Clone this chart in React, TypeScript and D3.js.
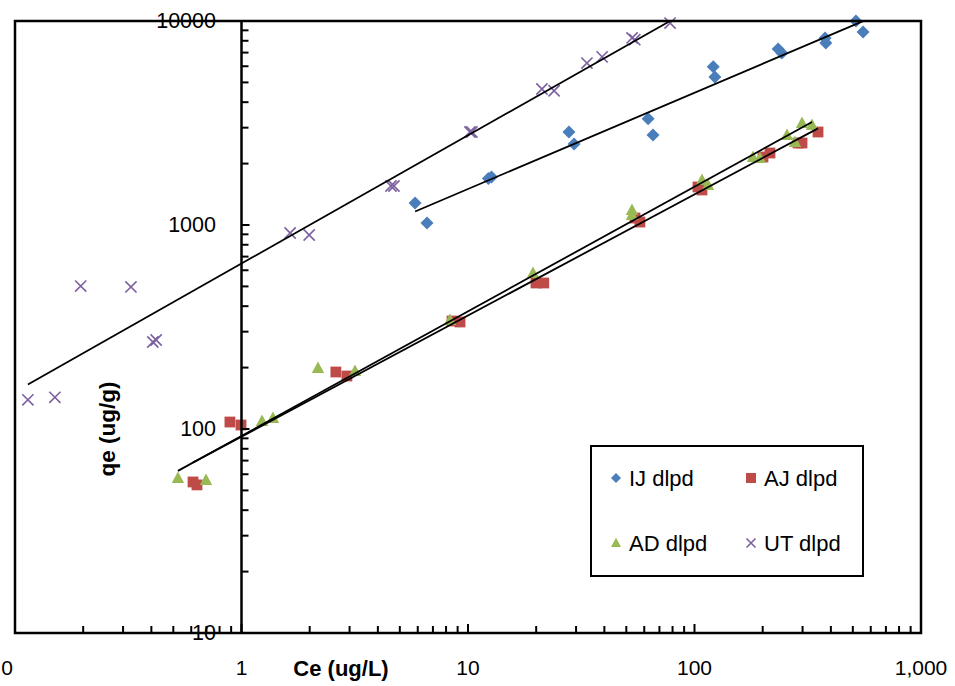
import * as d3 from "d3";

// Ce (ug/L) and qe (ug/g)
const ijCe = [5.84, 6.59, 12.3, 12.7, 27.9, 29.4, 62.4, 65.6, 121, 123, 234, 243, 377, 380, 516, 555];
const ijQe = [1283, 1023, 1690, 1720, 2858, 2495, 3313, 2762, 5960, 5310, 7290, 6970, 8260, 7800, 10000, 8830];

const ajCe = [0.611, 0.636, 0.889, 0.995, 2.61, 2.92, 8.5, 9.22, 19.96, 21.6, 54.6, 57.4, 103.6, 107.9, 200.6, 215.4, 286.4, 298.3, 351];
const ajQe = [55.0, 53.2, 108.2, 104.6, 190.3, 181.9, 338.4, 334.6, 519.6, 519.6, 1082, 1034, 1536, 1485, 2154, 2254, 2523, 2523, 2857];

const adCe = [0.524, 0.697, 1.232, 1.377, 2.176, 3.17, 8.33, 19.36, 52.97, 52.97, 107.9, 114.7, 181.3, 194.6, 256.1, 277.8, 298.3, 330.2];
const adQe = [57.5, 56.2, 109.4, 113.2, 199.1, 192.4, 342.2, 581.9, 1184, 1119, 1662, 1571, 2154, 2130, 2762, 2552, 3162, 3092];

const utCe = [0.114, 0.15, 0.195, 0.325, 0.406, 0.42, 1.64, 1.99, 4.57, 4.71, 10.2, 10.4, 21.2, 24.0, 33.5, 39.1, 53.0, 54.5, 78];
const utQe = [139, 143, 502, 497, 267, 273, 914, 893, 1553, 1553, 2858, 2858, 4640, 4550, 6220, 6670, 8260, 8100, 9770];

const seriesNames = ["IJ dlpd", "AJ dlpd", "AD dlpd", "UT dlpd"];
const seriesColors = ["#4A7EBB", "#BE4B48", "#98B954", "#7D60A0"];

const xTickValues = [0.1, 1, 10, 100, 1000];
const xTickLabels = ["0", "1", "10", "100", "1,000"];
const yTickValues = [10, 100, 1000, 10000];
const yTickLabels = ["10", "100", "1000", "10000"];

const FONT = "'Liberation Sans', Arial, sans-serif";

// power trendline = least squares on log10 values
function powerFit(xs: number[], ys: number[]) {
  const lx = xs.map(Math.log10);
  const ly = ys.map(Math.log10);
  const mx = d3.mean(lx)!;
  const my = d3.mean(ly)!;
  let num = 0;
  let den = 0;
  lx.forEach((v, i) => {
    num += (v - mx) * (ly[i] - my);
    den += (v - mx) * (v - mx);
  });
  const n = num / den;
  const a = my - n * mx;
  return (x: number) => Math.pow(10, a + n * Math.log10(x));
}

function marker(shape: string, s: number) {
  if (shape === "diamond") return `M0,${-s}L${s},0L0,${s}L${-s},0Z`;
  if (shape === "square") return `M${-s},${-s}H${s}V${s}H${-s}Z`;
  if (shape === "triangle") return `M0,${-s * 1.05}L${s},${s * 0.8}L${-s},${s * 0.8}Z`;
  return `M${-s},${-s}L${s},${s}M${-s},${s}L${s},${-s}`;
}

export default function App() {
  const left = 15;
  const right = 921;
  const top = 21;
  const bottom = 633;

  const x = d3.scaleLog().domain([0.1, 1000]).range([left, right]);
  const y = d3.scaleLog().domain([10, 10000]).range([bottom, top]);

  const series = [
    { ce: ijCe, qe: ijQe, shape: "diamond", size: 6.5 },
    { ce: ajCe, qe: ajQe, shape: "square", size: 5.4 },
    { ce: adCe, qe: adQe, shape: "triangle", size: 6.2 },
    { ce: utCe, qe: utQe, shape: "x", size: 5.6 },
  ].map((s, i) => ({ ...s, name: seriesNames[i], color: seriesColors[i] }));

  const line = d3
    .line<[number, number]>()
    .x((d) => x(d[0]))
    .y((d) => y(d[1]));

  const xMinor = x.ticks();
  const yMinor = y.ticks();
  const yAxisX = x(1);

  const legendItems = [
    { s: series[0], lx: 616, ly: 478 },
    { s: series[1], lx: 751, ly: 478 },
    { s: series[2], lx: 616, ly: 543 },
    { s: series[3], lx: 751, ly: 543 },
  ];

  return (
    <svg
      width={955}
      height={686}
      style={{ position: "absolute", left: 0, top: 0, background: "#fff" }}
      fontFamily={FONT}
    >
      <rect x={0} y={0} width={955} height={686} fill="#fff" />

      {/* markers */}
      {series.map((s) =>
        s.ce.map((c, i) => (
          <path
            key={s.name + i}
            d={marker(s.shape, s.size)}
            transform={`translate(${x(c)},${y(s.qe[i])})`}
            fill={s.shape === "x" ? "none" : s.color}
            stroke={s.shape === "x" ? s.color : "none"}
            strokeWidth={1.6}
          />
        ))
      )}

      {/* trendlines */}
      {series.map((s) => {
        const f = powerFit(s.ce, s.qe);
        const [x0, x1] = d3.extent(s.ce) as [number, number];
        return (
          <path
            key={"fit" + s.name}
            d={line([
              [x0, f(x0)],
              [x1, f(x1)],
            ])!}
            fill="none"
            stroke="#000"
            strokeWidth={1.8}
          />
        );
      })}

      {/* plot border */}
      <rect
        x={left}
        y={top}
        width={right - left}
        height={bottom - top}
        fill="none"
        stroke="#000"
        strokeWidth={2.5}
      />

      {/* x axis ticks */}
      {xMinor.map((t, i) => (
        <line
          key={"xt" + i}
          x1={x(t)}
          x2={x(t)}
          y1={bottom}
          y2={bottom - (xTickValues.includes(t) ? 9 : 7)}
          stroke="#000"
          strokeWidth={2}
        />
      ))}
      {xTickValues.map((t, i) => (
        <text
          key={"xl" + i}
          x={i === 0 ? 7 : x(t)}
          y={667}
          fontSize={21}
          textAnchor="middle"
          dominantBaseline="central"
        >
          {xTickLabels[i]}
        </text>
      ))}

      {/* y axis at Ce = 1 */}
      <line x1={yAxisX} x2={yAxisX} y1={top} y2={bottom} stroke="#000" strokeWidth={2.5} />
      {yMinor.map((t, i) => (
        <line
          key={"yt" + i}
          x1={yAxisX}
          x2={yAxisX + (yTickValues.includes(t) ? 8 : 7)}
          y1={y(t)}
          y2={y(t)}
          stroke="#000"
          strokeWidth={2}
        />
      ))}
      {yTickValues.map((t, i) => (
        <text
          key={"yl" + i}
          x={216}
          y={y(t)}
          fontSize={21.5}
          textAnchor="end"
          dominantBaseline="central"
        >
          {yTickLabels[i]}
        </text>
      ))}

      {/* axis titles */}
      <text x={341} y={668} fontSize={22} fontWeight="bold" textAnchor="middle" dominantBaseline="central">
        Ce (ug/L)
      </text>
      <text
        transform={`translate(107,429) rotate(-90)`}
        fontSize={22.5}
        fontWeight="bold"
        textAnchor="middle"
        dominantBaseline="central"
      >
        qe (ug/g)
      </text>

      {/* legend */}
      <rect x={591} y={446} width={272} height={130} fill="#fff" stroke="#000" strokeWidth={2} />
      {legendItems.map(({ s, lx, ly }) => (
        <g key={"lg" + s.name}>
          <path
            d={marker(s.shape, s.shape === "x" ? 4.5 : 5)}
            transform={`translate(${lx},${ly})`}
            fill={s.shape === "x" ? "none" : s.color}
            stroke={s.shape === "x" ? s.color : "none"}
            strokeWidth={1.6}
          />
          <text x={lx + 13} y={ly} fontSize={22} dominantBaseline="central">
            {s.name}
          </text>
        </g>
      ))}
    </svg>
  );
}
